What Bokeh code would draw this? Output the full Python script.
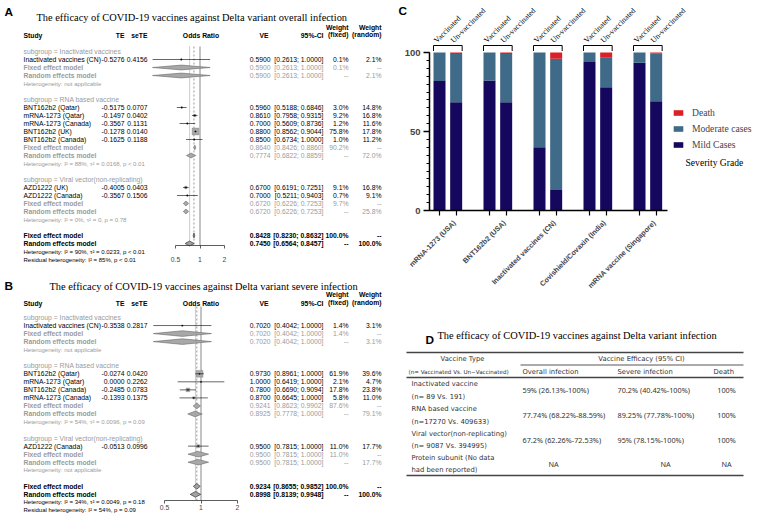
import math
from bokeh.plotting import figure
from bokeh.models import (Range1d, LogScale, LinearAxis, FixedTicker, ColumnDataSource,
                          Legend, LegendItem)
from bokeh.layouts import row, column
from bokeh.core.properties import value
from bokeh.embed import file_html
from bokeh.resources import INLINE

# ------------------------------------------------------------------ data
OR_TICKS = [0.5, 1, 2]

# Panel A : overall infection
A_TITLE = "The efficacy of COVID-19 vaccines against Delta variant overall infection"
A_SUBGROUPS = ["Inactivated vaccines", "RNA based vaccine", "Viral vector(non-replicating)"]
A_STUDY = ["Inactivated vaccines (CN)", "BNT162b2 (Qatar)", "mRNA-1273 (Qatar)",
           "mRNA-1273 (Canada)", "BNT162b2 (UK)", "BNT162b2 (Canada)",
           "AZD1222 (UK)", "AZD1222 (Canada)"]
A_GROUP = [0, 1, 1, 1, 1, 1, 2, 2]
A_TE = [-0.5276, -0.5175, -0.1497, -0.3567, -0.1278, -0.1625, -0.4005, -0.3567]
A_SETE = [0.4156, 0.0707, 0.0402, 0.1131, 0.0140, 0.1188, 0.0403, 0.1506]
A_VE = [0.5900, 0.5960, 0.8610, 0.7000, 0.8800, 0.8500, 0.6700, 0.7000]
A_LO = [0.2613, 0.5188, 0.7958, 0.5609, 0.8562, 0.6734, 0.6191, 0.5211]
A_HI = [1.0000, 0.6846, 0.9315, 0.8736, 0.9044, 1.0000, 0.7251, 0.9403]
A_WFIX = [0.1, 3.0, 9.2, 1.2, 75.8, 1.0, 9.1, 0.7]
A_WRAN = [2.1, 14.8, 16.8, 11.6, 17.8, 11.2, 16.8, 9.1]
A_FIX_VE = [0.5900, 0.8640, 0.6720]
A_FIX_LO = [0.2613, 0.8426, 0.6226]
A_FIX_HI = [1.0000, 0.8860, 0.7253]
A_FIX_HI_DRAWN = [1.3325, 0.8860, 0.7253]
A_FIX_W = [0.1, 90.2, 9.7]
A_RAN_VE = [0.5900, 0.7774, 0.6720]
A_RAN_LO = [0.2613, 0.6822, 0.6226]
A_RAN_HI = [1.0000, 0.8859, 0.7253]
A_RAN_HI_DRAWN = [1.3325, 0.8859, 0.7253]
A_RAN_W = [2.1, 72.0, 25.8]
A_HET = ["Heterogeneity: not applicable",
         "Heterogeneity: I\u00b2 = 88%,  \u03c4\u00b2 = 0.0168, p < 0.01",
         "Heterogeneity: I\u00b2 = 0%,  \u03c4\u00b2 = 0, p = 0.78"]
A_ALL_VE = [0.8428, 0.7450]
A_ALL_LO = [0.8230, 0.6564]
A_ALL_HI = [0.8632, 0.8457]
A_HET_ALL = "Heterogeneity: I\u00b2 = 90%,  \u03c4\u00b2 = 0.0233, p < 0.01"
A_RESID = "Residual heterogeneity: I\u00b2 = 85%, p < 0.01"

# Panel B : severe infection
B_TITLE = "The efficacy of COVID-19 vaccines against Delta variant severe infection"
B_SUBGROUPS = ["Inactivated vaccines", "RNA based vaccine", "Viral vector(non-replicating)"]
B_STUDY = ["Inactivated vaccines (CN)", "BNT162b2 (Qatar)", "mRNA-1273 (Qatar)",
           "BNT162b2 (Canada)", "mRNA-1273 (Canada)", "AZD1222 (Canada)"]
B_GROUP = [0, 1, 1, 1, 1, 2]
B_TE = [-0.3538, -0.0274, 0.0000, -0.2485, -0.1393, -0.0513]
B_SETE = [0.2817, 0.0420, 0.2262, 0.0783, 0.1375, 0.0996]
B_VE = [0.7020, 0.9730, 1.0000, 0.7800, 0.8700, 0.9500]
B_LO = [0.4042, 0.8961, 0.6419, 0.6690, 0.6645, 0.7815]
B_HI = [1.0000, 1.0000, 1.0000, 0.9094, 1.0000, 1.0000]
B_WFIX = [1.4, 61.9, 2.1, 17.8, 5.8, 11.0]
B_WRAN = [3.1, 39.6, 4.7, 23.8, 11.0, 17.7]
B_FIX_VE = [0.7020, 0.9241, 0.9500]
B_FIX_LO = [0.4042, 0.8623, 0.7815]
B_FIX_HI = [1.0000, 0.9902, 1.0000]
B_FIX_HI_DRAWN = [1.2190, 0.9902, 1.1550]
B_FIX_W = [1.4, 87.6, 11.0]
B_RAN_VE = [0.7020, 0.8925, 0.9500]
B_RAN_LO = [0.4042, 0.7778, 0.7815]
B_RAN_HI = [1.0000, 1.0000, 1.0000]
B_RAN_HI_DRAWN = [1.2190, 1.0240, 1.1550]
B_RAN_W = [3.1, 79.1, 17.7]
B_HET = ["Heterogeneity: not applicable",
         "Heterogeneity: I\u00b2 = 54%,  \u03c4\u00b2 = 0.0096, p = 0.09",
         "Heterogeneity: not applicable"]
B_ALL_VE = [0.9234, 0.8998]
B_ALL_LO = [0.8655, 0.8139]
B_ALL_HI = [0.9852, 0.9948]
B_HET_ALL = "Heterogeneity: I\u00b2 = 34%,  \u03c4\u00b2 = 0.0049, p = 0.18"
B_RESID = "Residual heterogeneity: I\u00b2 = 54%, p = 0.09"

# Panel C : severity distribution (percent)
C_GROUPS = ["mRNA-1273 (USA)", "BNT162b2 (USA)", "Inactivated vaccines (CN)",
            "Covishield/Covaxin (India)", "mRNA vaccine (Singapore)"]
C_STATUS = ["Vaccinated", "Un-vaccinated"]
C_MILD = [82.0, 68.5, 82.3, 68.5, 40.0, 13.0, 94.0, 78.0, 93.5, 69.2]
C_MODERATE = [18.0, 30.5, 17.7, 30.5, 60.0, 83.0, 6.0, 18.6, 6.5, 30.0]
C_DEATH = [0.0, 1.0, 0.0, 1.0, 0.0, 4.0, 0.0, 3.4, 0.0, 0.8]
C_SERIES = ["Mild Cases", "Moderate cases", "Death"]
C_COLORS = ["#15065e", "#3f6a88", "#dc2027"]
C_LEGEND_TITLE = "Severity Grade"
C_YTICKS = [0, 50, 100]

# Panel D : table
D_TITLE = "The efficacy of COVID-19 vaccines against Delta variant infection"
D_HEAD1 = ["Vaccine Type", "Vaccine Efficacy (95% CI)"]
D_HEAD2 = ["(n= Vaccinated Vs. Un\u2212Vaccinated)", "Overall infection", "Severe infection", "Death"]
D_TYPE = ["Inactivated vaccine", "RNA based vaccine", "Viral vector(non-replicating)",
          "Protein subunit (No data"]
D_N = ["(n= 89 Vs. 191)", "(n=17270 Vs. 409633)", "(n= 9087 Vs. 394995)", "had been reported)"]
D_OVERALL = ["59% (26.13%-100%)", "77.74% (68.22%-88.59%)", "67.2% (62.26%-72.53%)", "NA"]
D_SEVERE = ["70.2%    (40.42%-100%)", "89.25% (77.78%-100%)", "95% (78.15%-100%)", "NA"]
D_DEATH = ["100%", "100%", "100%", "NA"]

# ------------------------------------------------------------------ layout constants
LEFT_REF_W = 385
LW = LEFT_REF_W
RW = 757 - LW
A_BOT = 266
HA = A_BOT
HB = 517 - HA
C_BOT = 322
HC = C_BOT
HD = 517 - HC

SANS = "Liberation Sans"
SERIF = "Liberation Serif"
GRAY = "#9b9b9b"
TBL = "DejaVu Sans"
TBLN = "Noto Sans"


def fpx(s):
    return "%.2fpx" % s


STYLES = {
    "letter": (SANS, 11.8, "black", "bold", "left"),
    "title": (SERIF, 10.4, "black", "normal", "left"),
    "headL": (SANS, 6.8, "black", "bold", "left"),
    "headR": (SANS, 6.8, "black", "bold", "right"),
    "headC": (SANS, 6.8, "black", "bold", "center"),
    "lab": (SANS, 6.8, "black", "normal", "left"),
    "num": (SANS, 6.8, "black", "normal", "right"),
    "sub": (SANS, 6.8, GRAY, "normal", "left"),
    "subB": (SANS, 6.8, GRAY, "bold", "left"),
    "subnum": (SANS, 6.8, GRAY, "normal", "right"),
    "het": (SANS, 6.0, GRAY, "normal", "left"),
    "allB": (SANS, 6.8, "black", "bold", "left"),
    "allnum": (SANS, 6.8, "black", "bold", "right"),
    "hetall": (SANS, 6.0, "black", "normal", "left"),
    "dtitle": (SERIF, 10.4, "black", "normal", "left"),
    "dtxt": (TBL, 6.8, "#333333", "normal", "left"),
    "dtxtC": (TBL, 6.8, "#333333", "normal", "center"),
    "dnum": (TBLN, 7.3, "#333333", "normal", "left"),
    "dnumC": (TBLN, 7.3, "#333333", "normal", "center"),
    "dsmall": (TBL, 5.6, "#333333", "normal", "left"),
    "cstat": (SERIF, 7.8, "black", "normal", "left"),
    "cleg": (SERIF, 9.6, "black", "normal", "left"),
}


def draw_texts(p, items, angle=0.0):
    groups = {}
    for (x, y, s, st) in items:
        groups.setdefault(st, []).append((x, y, s))
    for st, lst in groups.items():
        font, size, color, weight, align = STYLES[st]
        src = ColumnDataSource(dict(x=[a[0] for a in lst], y=[a[1] for a in lst],
                                    t=[a[2] for a in lst]))
        p.text(x="x", y="y", text="t", source=src, text_font=value(font),
               text_font_size=value(fpx(size)), text_color=color, text_font_style=weight,
               text_align=align, text_baseline="middle", angle=angle)


def fmt_ci(lo, hi):
    return "[%.4f; %.4f]" % (lo, hi)


def pct(w):
    return "%.1f%%" % w


def bare(p):
    p.min_border_left = 0
    p.min_border_right = 0
    p.min_border_top = 0
    p.min_border_bottom = 0
    p.outline_line_color = None


# column positions (reference px)
X_LAB, X_TE, X_SE, X_OR, X_VE, X_CI, X_WF, X_WR = 23, 124, 147, 200.5, 270, 323, 348, 381


def forest(W, H, d, lay):
    ry0, ry1, ryax = lay["ry0"], lay["ry1"], lay["ry_axis"]
    p = figure(width=W, height=H, x_range=Range1d(0, LEFT_REF_W), y_range=Range1d(ry1, ry0),
               x_axis_type=None, y_axis_type=None, toolbar_location=None,
               output_backend="svg")
    bare(p)
    x1, u = lay["or1"], lay["orunit"]
    p.extra_x_ranges = {"or": Range1d(2 ** ((0 - x1) / u), 2 ** ((LEFT_REF_W - x1) / u))}
    p.extra_x_scales = {"or": LogScale()}

    def ry(i):
        return lay["row0"] + lay["drow"] * i

    items = [(lay["letter_x"], lay["letter_y"], lay["letter"], "letter"),
             (lay["title_x"], lay["title_y"], d["title"], "title")]
    hy, wy1, wy2 = lay["head_y"], lay["w_y1"], lay["w_y2"]
    items += [(X_LAB, hy, "Study", "headL"), (X_TE, hy, "TE", "headR"),
              (X_SE, hy, "seTE", "headR"), (X_OR, hy, "Odds Ratio", "headC"),
              (X_VE - 2, hy, "VE", "headR"), (X_CI, hy, "95%-CI", "headR"),
              (X_WF, wy1, "Weight", "headR"), (X_WF, wy2, "(fixed)", "headR"),
              (X_WR, wy1, "Weight", "headR"), (X_WR, wy2, "(random)", "headR")]

    sq_x, sq_y, sq_s = [], [], []
    ci_x0, ci_x1, ci_y = [], [], []
    dsub_xs, dsub_ys, dall_xs, dall_ys = [], [], [], []
    h = lay["dh"]
    maxw = max(d["wfix"])
    i = 0
    for g, gname in enumerate(d["subgroups"]):
        items.append((X_LAB, ry(i), "subgroup = " + gname, "sub"))
        i += 1
        for k in range(len(d["study"])):
            if d["group"][k] != g:
                continue
            y = ry(i)
            items += [(X_LAB, y, d["study"][k], "lab"), (X_TE, y, "%.4f" % d["te"][k], "num"),
                      (X_SE, y, "%.4f" % d["se"][k], "num"), (X_VE, y, "%.4f" % d["ve"][k], "num"),
                      (X_CI, y, fmt_ci(d["lo"][k], d["hi"][k]), "num"),
                      (X_WF, y, pct(d["wfix"][k]), "num"), (X_WR, y, pct(d["wran"][k]), "num")]
            sq_x.append(d["ve"][k]); sq_y.append(y)
            sq_s.append(max(1.3, 6.8 * math.sqrt(d["wfix"][k] / maxw)))
            ci_x0.append(math.exp(d["te"][k] - 1.96 * d["se"][k]))
            ci_x1.append(math.exp(d["te"][k] + 1.96 * d["se"][k]))
            ci_y.append(y)
            i += 1
        y = ry(i)
        items += [(X_LAB, y, "Fixed effect model", "subB"), (X_VE, y, "%.4f" % d["fix_ve"][g], "subnum"),
                  (X_CI, y, fmt_ci(d["fix_lo"][g], d["fix_hi"][g]), "subnum"),
                  (X_WF, y, pct(d["fix_w"][g]), "subnum"), (X_WR, y, "--", "subnum")]
        dsub_xs.append([d["fix_lo"][g], d["fix_ve"][g], d["fix_hid"][g], d["fix_ve"][g]])
        dsub_ys.append([y, y - h, y, y + h])
        i += 1
        y = ry(i)
        items += [(X_LAB, y, "Random effects model", "subB"), (X_VE, y, "%.4f" % d["ran_ve"][g], "subnum"),
                  (X_CI, y, fmt_ci(d["ran_lo"][g], d["ran_hi"][g]), "subnum"),
                  (X_WF, y, "--", "subnum"), (X_WR, y, pct(d["ran_w"][g]), "subnum")]
        dsub_xs.append([d["ran_lo"][g], d["ran_ve"][g], d["ran_hid"][g], d["ran_ve"][g]])
        dsub_ys.append([y, y - h, y, y + h])
        i += 1
        items.append((X_LAB, ry(i), d["het"][g], "het"))
        i += 2
    names = ["Fixed effect model", "Random effects model"]
    for j in range(2):
        y = ry(i)
        items += [(X_LAB, y, names[j], "allB"), (X_VE, y, "%.4f" % d["all_ve"][j], "allnum"),
                  (X_CI, y, fmt_ci(d["all_lo"][j], d["all_hi"][j]), "allnum"),
                  (X_WF, y, "100.0%" if j == 0 else "--", "allnum"),
                  (X_WR, y, "100.0%" if j == 1 else "--", "allnum")]
        dall_xs.append([d["all_lo"][j], d["all_ve"][j], d["all_hi"][j], d["all_ve"][j]])
        dall_ys.append([y, y - h, y, y + h])
        i += 1
    items.append((X_LAB, ry(i), d["het_all"], "hetall"))
    items.append((X_LAB, ry(i + 1), d["resid"], "hetall"))

    vt = lay["vtop"]
    p.segment(x0=[1], y0=[vt], x1=[1], y1=[ryax], x_range_name="or",
              line_color="#7a7a7a", line_width=0.9)
    p.segment(x0=[d["all_ve"][0]], y0=[vt], x1=[d["all_ve"][0]], y1=[ryax], x_range_name="or",
              line_color="#555555", line_width=0.6, line_dash="2 2")
    p.segment(x0=[d["all_ve"][1]], y0=[vt], x1=[d["all_ve"][1]], y1=[ryax], x_range_name="or",
              line_color="#555555", line_width=0.6, line_dash="1 1")

    p.scatter(x=sq_x, y=sq_y, size=sq_s, marker="square", x_range_name="or",
              fill_color="#a9a9a9", line_color="#808080", line_width=0.4)
    p.segment(x0=ci_x0, y0=ci_y, x1=ci_x1, y1=ci_y, x_range_name="or",
              line_color="black", line_width=0.6)
    p.scatter(x=sq_x, y=sq_y, size=1.3, marker="square", x_range_name="or",
              fill_color="black", line_color=None)
    p.patches(xs=dsub_xs, ys=dsub_ys, x_range_name="or", fill_color="#a8a8a8",
              line_color="#6a6a6a", line_width=0.6)
    p.patches(xs=dall_xs, ys=dall_ys, x_range_name="or", fill_color="#a3a3a3",
              line_color="#3a3a3a", line_width=0.7)

    ax = LinearAxis(x_range_name="or", ticker=FixedTicker(ticks=OR_TICKS),
                    bounds=(min(OR_TICKS), max(OR_TICKS)), fixed_location=ryax)
    ax.major_label_overrides = {t: ("%g" % t) for t in OR_TICKS}
    ax.major_tick_out = 3
    ax.major_tick_in = 0
    ax.minor_tick_out = 0
    ax.minor_tick_in = 0
    ax.axis_line_color = "#333333"
    ax.axis_line_width = 0.8
    ax.major_tick_line_color = "#333333"
    ax.major_tick_line_width = 0.8
    ax.major_label_text_font = SANS
    ax.major_label_text_font_size = fpx(6.8)
    ax.major_label_standoff = lay["standoff"]
    p.add_layout(ax, "below")

    draw_texts(p, items)
    return p


def spec(prefix):
    g = globals()
    return dict(title=g[prefix + "TITLE"], subgroups=g[prefix + "SUBGROUPS"], study=g[prefix + "STUDY"],
                group=g[prefix + "GROUP"], te=g[prefix + "TE"], se=g[prefix + "SETE"],
                ve=g[prefix + "VE"], lo=g[prefix + "LO"], hi=g[prefix + "HI"],
                wfix=g[prefix + "WFIX"], wran=g[prefix + "WRAN"],
                fix_ve=g[prefix + "FIX_VE"], fix_lo=g[prefix + "FIX_LO"], fix_hi=g[prefix + "FIX_HI"],
                fix_hid=g[prefix + "FIX_HI_DRAWN"], fix_w=g[prefix + "FIX_W"],
                ran_ve=g[prefix + "RAN_VE"], ran_lo=g[prefix + "RAN_LO"], ran_hi=g[prefix + "RAN_HI"],
                ran_hid=g[prefix + "RAN_HI_DRAWN"], ran_w=g[prefix + "RAN_W"],
                het=g[prefix + "HET"], all_ve=g[prefix + "ALL_VE"], all_lo=g[prefix + "ALL_LO"],
                all_hi=g[prefix + "ALL_HI"], het_all=g[prefix + "HET_ALL"], resid=g[prefix + "RESID"])


layA = dict(ry0=0, ry1=A_BOT, ry_axis=245, row0=51, drow=8.0, or1=199.5, orunit=24.5,
            letter="A", letter_x=4, letter_y=11.5, title_x=36, title_y=16.7, head_y=35, w_y1=27,
            w_y2=34, vtop=46, dh=2.4, standoff=8)
layB = dict(ry0=A_BOT, ry1=517, ry_axis=500, row0=317, drow=8.04, or1=200.5,
            orunit=36.5, letter="B", letter_x=4, letter_y=285, title_x=49, title_y=286, head_y=302.5,
            w_y1=294, w_y2=302, vtop=306, dh=2.8, standoff=1)

pA = forest(LW, HA, spec("A_"), layA)
pB = forest(LW, HB, spec("B_"), layB)

# ------------------------------------------------------------------ panel C
PXU = 50 / 3.0     # reference px per x unit
PYU = 1.58         # reference px per percent
C_LEFT, C_BOTTOM, C_FIRST = 429, 210, 439


def cx(r):
    return (r - C_FIRST) / PXU


def cy(r):
    return (C_BOTTOM - r) / PYU


C_X = [3 * g + s for g in range(len(C_GROUPS)) for s in range(len(C_STATUS))]
C_GX = [3 * g + 0.9 for g in range(len(C_GROUPS))]
pC = figure(width=RW, height=HC, x_range=Range1d(cx(LEFT_REF_W), cx(757)),
            y_range=Range1d(cy(C_BOT), cy(0)), x_axis_type=None, y_axis_type=None,
            toolbar_location=None, output_backend="svg")
bare(pC)

srcC = ColumnDataSource(dict(x=C_X, mild=C_MILD, moderate=C_MODERATE, death=C_DEATH))
rs = pC.vbar_stack(["mild", "moderate", "death"], x="x", width=0.72, source=srcC,
                   color=C_COLORS, line_color=None)

yax = LinearAxis(ticker=FixedTicker(ticks=C_YTICKS, minor_ticks=list(range(0, 101, 5))),
                 bounds=(0, 100), fixed_location=cx(C_LEFT))
yax.axis_line_width = 1.5
yax.major_tick_line_width = 1.5
yax.minor_tick_line_width = 1
yax.major_tick_out = 6
yax.major_tick_in = 0
yax.minor_tick_out = 3
yax.minor_tick_in = 0
yax.major_label_text_font = SANS
yax.major_label_text_font_style = "bold"
yax.major_label_text_font_size = fpx(9.5)
yax.major_label_standoff = 3
pC.add_layout(yax, "left")

xax = LinearAxis(ticker=FixedTicker(ticks=C_GX, minor_ticks=C_X),
                 bounds=(min(C_X) - 0.6, max(C_X) + 0.68), fixed_location=0)
xax.major_label_overrides = {C_GX[g]: C_GROUPS[g] for g in range(len(C_GROUPS))}
xax.major_label_orientation = math.pi / 4
xax.axis_line_width = 1.5
xax.major_tick_out = 0
xax.major_tick_in = 0
xax.minor_tick_out = 5
xax.minor_tick_in = 0
xax.minor_tick_line_width = 1.2
xax.major_label_text_font = SANS
xax.major_label_text_font_style = "bold"
xax.major_label_text_font_size = fpx(7.2)
xax.major_label_standoff = 6
pC.add_layout(xax, "below")

# brackets over each pair
bx0, bx1, by0, by1 = [], [], [], []
for g in range(len(C_GROUPS)):
    a, b = 3 * g - 0.36, 3 * g + 1.36
    bx0 += [a, a, b]
    bx1 += [b, a, b]
    by0 += [cy(45), cy(45), cy(45)]
    by1 += [cy(45), cy(50.5), cy(50.5)]
pC.segment(x0=bx0, y0=by0, x1=bx1, y1=by1, line_color="black", line_width=1)

stat_items = [(C_X[k] - 0.25, cy(41), C_STATUS[k % len(C_STATUS)], "cstat") for k in range(len(C_X))]
draw_texts(pC, stat_items, angle=math.pi / 4)
draw_texts(pC, [(cx(685), cy(162), C_LEGEND_TITLE, "cleg"), (cx(398), cy(10.5), "C", "letter")])

legend = Legend(items=[LegendItem(label=C_SERIES[2], renderers=[rs[2]]),
                       LegendItem(label=C_SERIES[1], renderers=[rs[1]]),
                       LegendItem(label=C_SERIES[0], renderers=[rs[0]])],
                location=(672 - LEFT_REF_W, C_BOT - 151),
                glyph_width=12, glyph_height=7, label_height=14, spacing=2, padding=0, margin=0,
                label_standoff=8, label_text_font=SERIF, label_text_font_size=fpx(9.6),
                border_line_color=None, background_fill_alpha=0)
pC.add_layout(legend)

# ------------------------------------------------------------------ panel D
pD = figure(width=RW, height=HD, x_range=Range1d(LEFT_REF_W, 757), y_range=Range1d(517, C_BOT),
            x_axis_type=None, y_axis_type=None, toolbar_location=None, output_backend="svg")
bare(pD)

T_L, T_R = 406, 743
pD.segment(x0=[T_L, T_L, T_L], y0=[352, 377, 475], x1=[T_R, T_R, T_R], y1=[352, 377, 475],
           line_color="#444444", line_width=1.6)
pD.segment(x0=[520], y0=[364.5], x1=[T_R], y1=[364.5], line_color="#444444", line_width=0.9)

dit = [(425, 339, "D", "letter"), (437, 335, D_TITLE, "dtitle"),
       (462, 358.5, D_HEAD1[0], "dtxtC"), (641, 358.5, D_HEAD1[1], "dtxtC"),
       (408, 371, D_HEAD2[0], "dsmall"), (522, 371, D_HEAD2[1], "dtxt"),
       (617, 371, D_HEAD2[2], "dtxt"), (713, 371, D_HEAD2[3], "dtxt")]
ROW_Y1 = [383, 408, 433, 457]
ROW_Y2 = [396, 421, 445, 469.5]
for k in range(len(D_TYPE)):
    ym = (ROW_Y1[k] + ROW_Y2[k]) / 2.0
    dit += [(411, ROW_Y1[k], D_TYPE[k], "dtxt"), (411, ROW_Y2[k], D_N[k], "dtxt")]
    dit.append((553, ym, D_OVERALL[k], "dnumC") if D_OVERALL[k] == "NA" else (522, ym, D_OVERALL[k], "dnum"))
    dit.append((665, ym, D_SEVERE[k], "dnumC") if D_SEVERE[k] == "NA" else (617, ym, D_SEVERE[k], "dnum"))
    dit.append((726, ym, D_DEATH[k], "dnumC"))
draw_texts(pD, dit)

layout = row(column(pA, pB), column(pC, pD))
open("out.html", "w").write(file_html(layout, INLINE))
